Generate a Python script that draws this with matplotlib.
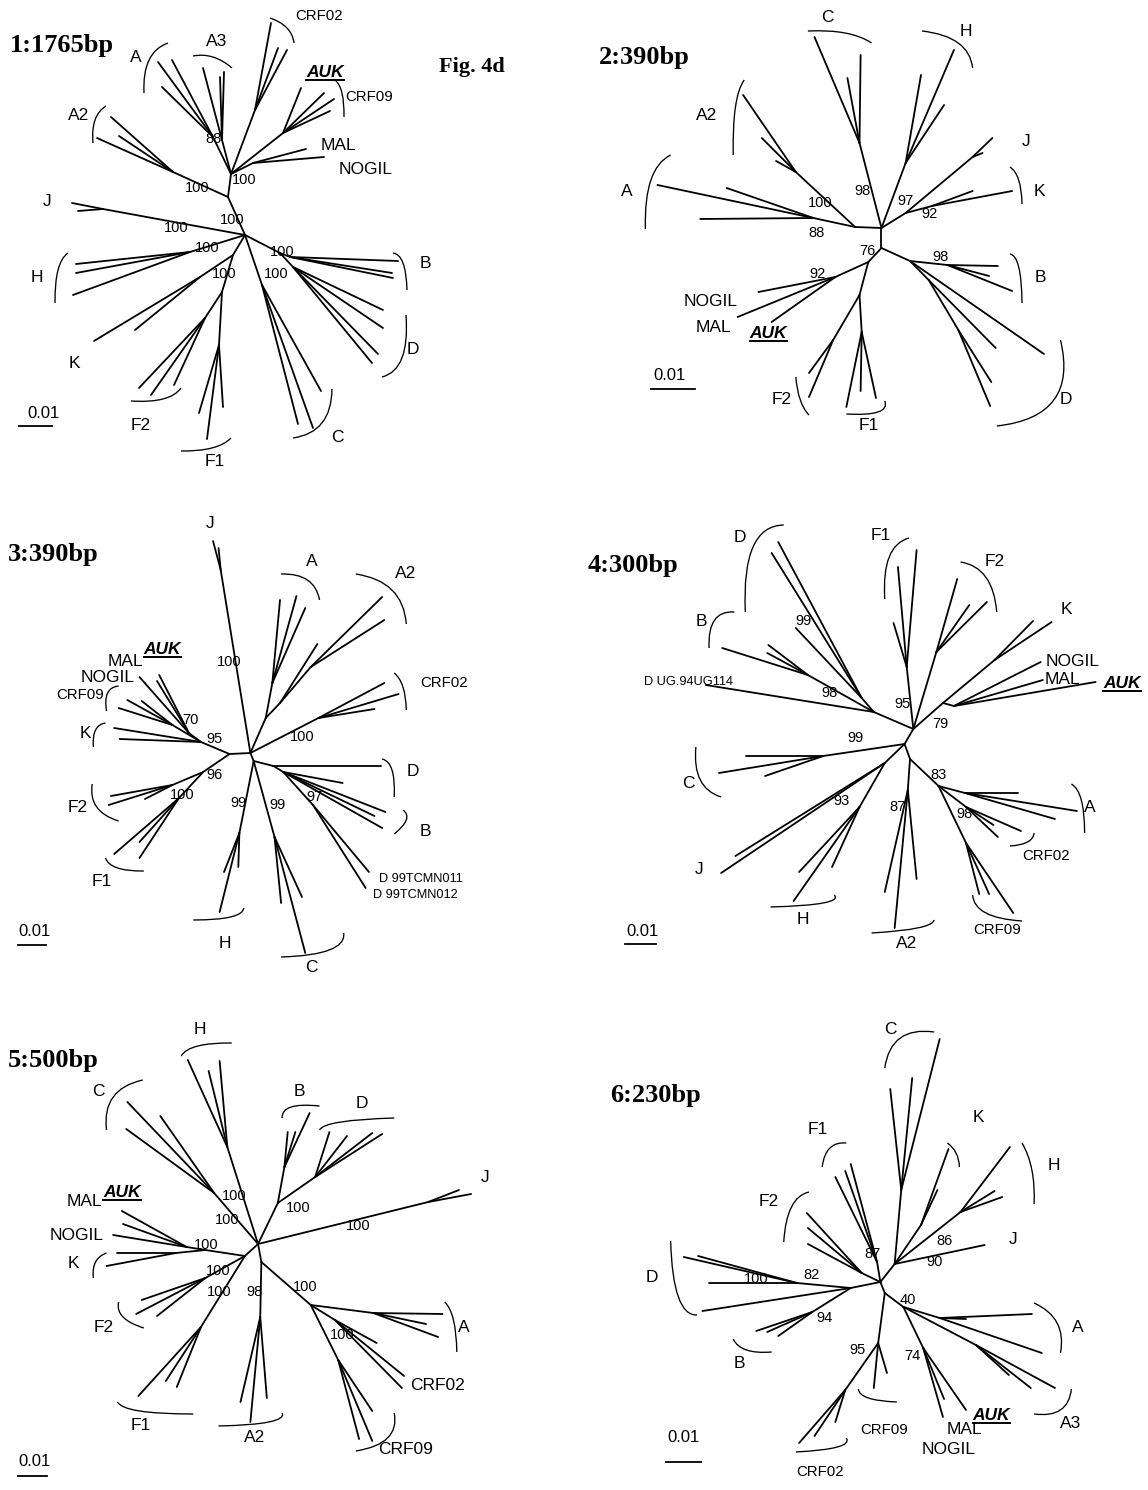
import matplotlib
matplotlib.use('Agg')
import matplotlib.pyplot as plt
from matplotlib.collections import LineCollection
from matplotlib.path import Path
from matplotlib.patches import PathPatch

# Six unrooted subtype trees (Fig. 4d). Coordinates are read off the
# reference picture (pixels, y down). Panels 2-6 were read in a frame whose
# x axis is squeezed, so each panel gets its own axes / x range (see *_frame).

# frame = (left edge of panel in px, xlim0, xlim1) for a 574 px wide panel
SQ = 574 / 1.0981

# ---------------- panel 1 : 1765bp ----------------
p1_frame = (0, 0, 574)
p1_title = ('1:1765bp', 10, 52)
p1_nodes = {
    'r': (None, 245, 235), 'u': ('r', 228, 197), 't': ('u', 231, 174),
    'a2': ('u', 173, 172), 'a': ('t', 213, 137), 'a3': ('t', 222, 140),
    'c02': ('t', 255, 110), 'c09': ('t', 283, 133), 'm': ('t', 253, 163),
    'j': ('r', 103, 209), 'h': ('r', 190, 252), 'kf': ('r', 233, 255),
    'k': ('kf', 200, 277), 'f': ('kf', 222, 292), 'f2': ('f', 205, 318),
    'f1': ('f', 219, 345), 'c': ('r', 262, 285), 'bd': ('r', 280, 253),
    'b': ('bd', 290, 257), 'd': ('bd', 293, 267),
}
p1_tips = [('a2', 111, 117), ('a2', 119, 136), ('a2', 97, 138),
           ('a', 158, 62), ('a', 172, 60), ('a', 162, 87),
           ('a3', 203, 68), ('a3', 220, 77), ('a3', 224, 72),
           ('c02', 271, 23), ('c02', 287, 50), ('c02', 278, 48),
           ('c09', 301, 88), ('c09', 324, 93), ('c09', 334, 99), ('c09', 330, 111),
           ('m', 306, 149), ('m', 324, 157),
           ('j', 72, 203), ('j', 78, 211),
           ('h', 76, 264), ('h', 76, 273), ('h', 73, 295),
           ('k', 94, 341), ('k', 135, 330),
           ('f2', 139, 388), ('f2', 151, 395), ('f2', 174, 385),
           ('f1', 199, 413), ('f1', 207, 439), ('f1', 223, 407),
           ('c', 298, 424), ('c', 313, 428), ('c', 321, 391),
           ('b', 398, 261), ('b', 392, 273), ('b', 393, 278),
           ('d', 383, 310), ('d', 383, 328), ('d', 378, 354), ('d', 372, 363)]
p1_brackets = [(168, 43, 149, 60, 144, 93), (193, 56, 213, 57, 232, 68),
               (270, 18, 287, 28, 294, 43), (335, 80, 342, 93, 344, 117),
               (106, 106, 95, 120, 93, 143), (68, 253, 58, 270, 55, 303),
               (393, 253, 403, 263, 407, 290), (406, 315, 402, 358, 382, 377),
               (332, 389, 322, 423, 293, 438), (231, 438, 212, 448, 181, 451),
               (181, 388, 163, 399, 131, 401)]
p1_labels = [('A', 136, 58, 'clade'), ('A3', 217, 42, 'clade'), ('CRF02', 319, 16, 'crf'),
             ('CRF09', 369, 97, 'crf'), ('MAL', 338, 145, 'clade'), ('NOGIL', 366, 169, 'clade'),
             ('A2', 79, 116, 'clade'), ('J', 47, 202, 'clade'), ('H', 37, 277, 'clade'),
             ('K', 74, 363, 'clade'), ('F2', 141, 425, 'clade'), ('F1', 215, 462, 'clade'),
             ('C', 337, 437, 'clade'), ('D', 413, 350, 'clade'), ('B', 425, 264, 'clade'),
             ('AUK', 325, 71, 'auk')]
p1_boot = [('88', 214, 139), ('100', 244, 180), ('100', 197, 188), ('100', 232, 220),
           ('100', 176, 228), ('100', 207, 248), ('100', 224, 274), ('100', 282, 252),
           ('100', 276, 274)]
p1_scale = (19, 52, 426, 43, 413)

# ---------------- panel 2 : 390bp ----------------
p2_frame = (574, 574, 574 + SQ)
p2_title = ('2:390bp', 597, 64)
p2_nodes = {
    'r': (None, 854, 228), 'b': ('r', 854, 248), 'c': ('r', 834, 143),
    'h': ('r', 876, 163), 'jk': ('r', 876, 213), 'j': ('jk', 937, 157),
    'k': ('jk', 900, 206), 'aa': ('r', 830, 227), 'a2': ('aa', 776, 172),
    'a': ('aa', 792, 218), 'bd': ('b', 880, 261), 'bb': ('bd', 914, 265),
    'd': ('bd', 897, 280), 'd2': ('d', 924, 330), 'fm': ('b', 842, 262),
    'm': ('fm', 812, 277), 'f': ('fm', 834, 295), 'f1': ('f', 836, 332),
    'f2': ('f', 810, 340),
}
p2_tips = [('c', 793, 37), ('c', 835, 55), ('c', 823, 78),
           ('h', 920, 50), ('h', 890, 75), ('h', 911, 105),
           ('j', 955, 138), ('j', 946, 153),
           ('k', 937, 191), ('k', 973, 191),
           ('a2', 728, 95), ('a2', 745, 138), ('a2', 758, 161),
           ('a', 650, 185), ('a', 713, 188), ('a', 689, 219),
           ('bb', 960, 266), ('bb', 952, 276), ('bb', 973, 291),
           ('bd', 1002, 354), ('d', 958, 348), ('d2', 954, 382), ('d2', 953, 406),
           ('m', 742, 292), ('m', 723, 317), ('m', 754, 322),
           ('f1', 822, 407), ('f1', 835, 391), ('f1', 849, 398),
           ('f2', 788, 397), ('f2', 788, 373)]
p2_brackets = [(787, 31, 821, 33, 845, 43), (891, 31, 924, 43, 937, 68),
               (729, 80, 721, 107, 719, 155), (662, 155, 644, 180, 639, 229),
               (971, 167, 979, 180, 982, 204), (971, 254, 979, 267, 982, 303),
               (1017, 340, 1011, 400, 959, 426), (857, 401, 851, 412, 822, 414),
               (776, 377, 780, 400, 788, 415)]
p2_labels = [('C', 805, 17, 'clade'), ('H', 931, 31, 'clade'), ('A2', 695, 116, 'clade'),
             ('A', 622, 191, 'clade'), ('J', 986, 142, 'clade'), ('K', 998, 191, 'clade'),
             ('B', 999, 277, 'clade'), ('D', 1022, 400, 'clade'), ('F1', 842, 425, 'clade'),
             ('F2', 763, 400, 'clade'), ('NOGIL', 698, 302, 'clade'), ('MAL', 701, 327, 'clade'),
             ('AUK', 751, 332, 'auk')]
p2_boot = [('98', 837, 191), ('97', 876, 201), ('92', 898, 214), ('100', 798, 203),
           ('88', 795, 233), ('98', 908, 257), ('76', 841, 251), ('92', 796, 274)]
p2_scale = (644, 684, 389, 661, 376)

# ---------------- panel 3 : 390bp ----------------
p3_frame = (0, 0, SQ)
p3_title = ('3:390bp', 7, 561)
p3_nodes = {
    'r': (None, 228, 753), 'l': ('r', 209, 754), 'b': ('r', 231, 761),
    'j': ('r', 201, 570), 'aa': ('r', 242, 718), 'a': ('aa', 248, 683),
    'a2': ('aa', 255, 703), 'a2b': ('a2', 283, 667), 'c02': ('r', 290, 718),
    'ul': ('l', 183, 742), 'm': ('ul', 172, 733), 'c09': ('ul', 157, 725),
    'll': ('l', 185, 772), 'f2': ('ll', 157, 785), 'f1': ('ll', 163, 798),
    'db': ('b', 249, 766), 'dbs': ('db', 258, 772), 'tc': ('dbs', 285, 805),
    'h': ('b', 218, 833), 'c': ('b', 250, 837),
}
p3_tips = [('j', 194, 541), ('j', 199, 548),
           ('a', 255, 600), ('a', 270, 596), ('a', 278, 608),
           ('a2', 289, 644), ('a2b', 348, 597), ('a2b', 350, 620),
           ('c02', 350, 683), ('c02', 363, 694), ('c02', 341, 709),
           ('ul', 104, 728), ('ul', 109, 739),
           ('m', 127, 677), ('m', 145, 675), ('m', 143, 681),
           ('c09', 116, 700), ('c09', 129, 701), ('c09', 108, 708),
           ('f2', 101, 796), ('f2', 99, 805), ('f2', 132, 799),
           ('f1', 104, 854), ('f1', 127, 858), ('f1', 127, 842),
           ('db', 347, 766),
           ('dbs', 312, 783), ('dbs', 351, 812), ('dbs', 348, 828), ('dbs', 341, 816),
           ('tc', 336, 872), ('tc', 333, 888),
           ('h', 200, 912), ('h', 204, 872), ('h', 217, 867),
           ('c', 278, 953), ('c', 256, 903), ('c', 275, 897)]
p3_brackets = [(256, 574, 280, 580, 291, 600), (324, 574, 357, 590, 370, 624),
               (359, 673, 367, 687, 370, 710), (348, 759, 357, 770, 359, 797),
               (367, 810, 370, 820, 359, 834), (313, 933, 300, 950, 256, 957),
               (222, 908, 210, 917, 176, 920), (96, 858, 107, 868, 131, 871),
               (84, 784, 88, 807, 108, 821), (96, 723, 87, 730, 85, 747),
               (108, 686, 98, 693, 97, 711)]
p3_labels = [('J', 191, 523, 'clade'), ('A', 284, 562, 'clade'), ('A2', 369, 573, 'clade'),
             ('CRF02', 404, 683, 'crf'), ('D', 376, 772, 'clade'), ('B', 387, 832, 'clade'),
             ('C', 284, 968, 'clade'), ('H', 205, 943, 'clade'), ('F1', 93, 882, 'clade'),
             ('F2', 71, 808, 'clade'), ('K', 78, 734, 'clade'), ('CRF09', 73, 695, 'crf'),
             ('NOGIL', 98, 677, 'clade'), ('MAL', 114, 662, 'clade'), ('AUK', 148, 648, 'auk'),
             ('D 99TCMN011', 383, 879, 'small'), ('D 99TCMN012', 378, 895, 'small')]
p3_boot = [('100', 209, 662), ('100', 275, 737), ('70', 173, 720), ('95', 195, 739),
           ('96', 195, 775), ('100', 166, 795), ('99', 217, 803), ('99', 253, 805),
           ('97', 286, 797)]
p3_scale = (16, 42, 945, 31, 932)

# ---------------- panel 4 : 300bp ----------------
p4_frame = (574, 574, 574 + SQ)
p4_title = ('4:300bp', 586, 572)
p4_nodes = {
    'r': (None, 883, 729), 'lo': ('r', 875, 744), 'db': ('r', 847, 712),
    'd': ('db', 836, 698), 'b': ('db', 787, 675), 'f1': ('r', 877, 667),
    'f2': ('r', 904, 652), 'r79': ('r', 910, 703), 'k': ('r79', 957, 660),
    'm': ('r79', 920, 706), 'c': ('lo', 801, 756), 'jh': ('lo', 857, 763),
    'h': ('jh', 834, 807), 'a2r': ('lo', 880, 759), 'a2': ('a2r', 878, 790),
    'ac': ('a2r', 906, 786), 'a': ('ac', 930, 793), 'c02': ('ac', 931, 807),
    'c09': ('ac', 931, 843),
}
p4_tips = [('d', 760, 542), ('d', 754, 553), ('d', 776, 628),
           ('b', 709, 648), ('b', 751, 645), ('b', 750, 653),
           ('db', 694, 685),
           ('f1', 886, 550), ('f1', 869, 567), ('f1', 865, 623),
           ('f2', 923, 579), ('f2', 934, 605), ('f2', 950, 602),
           ('k', 992, 621), ('k', 1009, 622),
           ('m', 999, 662), ('m', 1001, 680), ('m', 1049, 682),
           ('c', 731, 756), ('c', 706, 773), ('c', 748, 776),
           ('jh', 708, 873), ('jh', 721, 856),
           ('h', 774, 901), ('h', 779, 872), ('h', 809, 867),
           ('a2', 866, 928), ('a2', 857, 892), ('a2', 886, 879),
           ('a', 978, 793), ('a', 1032, 811), ('a', 1012, 819),
           ('c02', 981, 831), ('c02', 960, 837), ('c02', 956, 825),
           ('c09', 974, 913), ('c09', 952, 894), ('c09', 943, 894)]
p4_brackets = [(765, 525, 737, 547, 730, 612), (720, 612, 702, 620, 697, 648),
               (879, 538, 861, 557, 857, 599), (926, 562, 949, 577, 959, 612),
               (685, 747, 689, 780, 708, 797), (1027, 784, 1036, 800, 1039, 833),
               (993, 833, 987, 842, 971, 846), (937, 895, 949, 913, 982, 921),
               (902, 920, 887, 928, 845, 933), (811, 895, 801, 903, 753, 907)]
p4_labels = [('D', 725, 537, 'clade'), ('F1', 853, 536, 'clade'), ('F2', 957, 561, 'clade'),
             ('K', 1022, 610, 'clade'), ('NOGIL', 1028, 661, 'clade'), ('MAL', 1019, 679, 'clade'),
             ('AUK', 1073, 682, 'auk'), ('B', 690, 622, 'clade'), ('D UG.94UG114', 678, 682, 'small'),
             ('C', 678, 783, 'clade'), ('A', 1044, 808, 'clade'), ('CRF02', 1004, 856, 'crf'),
             ('CRF09', 959, 930, 'crf'), ('A2', 877, 943, 'clade'), ('H', 782, 920, 'clade'),
             ('J', 688, 869, 'clade')]
p4_boot = [('99', 783, 621), ('98', 807, 693), ('95', 873, 704), ('79', 908, 724),
           ('99', 830, 738), ('93', 818, 801), ('87', 869, 807), ('83', 906, 775),
           ('98', 930, 814)]
p4_scale = (620, 649, 944, 636, 932)

# ---------------- panel 5 : 500bp ----------------
p5_frame = (0, 0, SQ)
p5_title = ('5:500bp', 7, 1067)
p5_nodes = {
    'r': (None, 235, 1244), 'l': ('r', 223, 1256), 'lo': ('r', 238, 1262),
    'c': ('r', 195, 1193), 'h': ('r', 207, 1147), 'bd': ('r', 253, 1203),
    'b': ('bd', 259, 1167), 'd': ('bd', 287, 1177), 'j': ('r', 390, 1202),
    'mk': ('l', 187, 1250), 'm': ('mk', 170, 1247), 'k': ('mk', 160, 1253),
    'f2': ('l', 187, 1278), 'f1': ('l', 183, 1327), 'a2': ('lo', 237, 1317),
    'ac': ('lo', 283, 1305), 'a': ('ac', 340, 1313), 'c02': ('ac', 305, 1320),
    'c09': ('ac', 308, 1360),
}
p5_tips = [('c', 116, 1102), ('c', 115, 1129), ('c', 146, 1116),
           ('h', 171, 1060), ('h', 190, 1071), ('h', 200, 1061),
           ('b', 269, 1132), ('b', 262, 1132), ('b', 282, 1113),
           ('d', 300, 1132), ('d', 316, 1136), ('d', 339, 1133), ('d', 348, 1134),
           ('j', 429, 1194), ('j', 418, 1190),
           ('m', 111, 1211), ('m', 112, 1224), ('m', 103, 1235),
           ('k', 107, 1253), ('k', 97, 1266),
           ('f2', 129, 1300), ('f2', 124, 1314), ('f2', 143, 1316),
           ('f1', 126, 1396), ('f1', 151, 1381), ('f1', 161, 1387),
           ('a2', 228, 1422), ('a2', 219, 1402), ('a2', 243, 1398),
           ('a', 403, 1314), ('a', 388, 1324), ('a', 399, 1337),
           ('c02', 343, 1343), ('c02', 368, 1376), ('c02', 366, 1388),
           ('c09', 327, 1439), ('c09', 339, 1441), ('c09', 339, 1411)]
p5_brackets = [(165, 1056, 180, 1046, 211, 1043), (130, 1080, 103, 1097, 97, 1130),
               (257, 1118, 265, 1107, 291, 1106), (291, 1130, 310, 1122, 359, 1118),
               (97, 1253, 87, 1262, 85, 1278), (108, 1302, 112, 1317, 131, 1328),
               (107, 1402, 127, 1411, 176, 1414), (257, 1413, 245, 1422, 199, 1426),
               (405, 1302, 413, 1320, 416, 1352), (359, 1413, 353, 1438, 324, 1451)]
p5_labels = [('H', 182, 1030, 'clade'), ('C', 90, 1091, 'clade'), ('B', 273, 1091, 'clade'),
             ('D', 330, 1104, 'clade'), ('J', 442, 1178, 'clade'), ('AUK', 111, 1191, 'auk'),
             ('MAL', 77, 1202, 'clade'), ('NOGIL', 70, 1236, 'clade'), ('K', 67, 1264, 'clade'),
             ('F2', 94, 1327, 'clade'), ('F1', 128, 1425, 'clade'), ('A2', 232, 1437, 'clade'),
             ('CRF09', 369, 1450, 'clade'), ('A', 422, 1327, 'clade'), ('CRF02', 398, 1385, 'clade')]
p5_boot = [('100', 213, 1196), ('100', 207, 1220), ('100', 272, 1208), ('100', 326, 1226),
           ('100', 188, 1245), ('100', 199, 1271), ('100', 200, 1292), ('98', 232, 1292),
           ('100', 278, 1287), ('100', 312, 1335)]
p5_scale = (16, 43, 1476, 31, 1462)

# ---------------- panel 6 : 230bp ----------------
p6_frame = (574, 574, 574 + SQ)
p6_title = ('6:230bp', 607, 1102)
p6_nodes = {
    'r': (None, 853, 1282), 'up': ('r', 866, 1264), 'lo': ('r', 857, 1293),
    'lf': ('r', 826, 1288), 'c': ('up', 872, 1190), 'k': ('up', 890, 1225),
    'h': ('up', 926, 1212), 'f1': ('r', 850, 1262), 'f2': ('r', 836, 1273),
    'd': ('lf', 777, 1283), 'b': ('lf', 791, 1312), 'crf': ('lo', 851, 1343),
    'c02': ('crf', 821, 1390), 'am': ('lo', 874, 1307), 'a': ('am', 907, 1318),
    'a3': ('am', 940, 1345), 'm': ('am', 892, 1348),
}
p6_tips = [('c', 907, 1039), ('c', 882, 1078), ('c', 862, 1089),
           ('k', 915, 1149), ('k', 905, 1190),
           ('h', 971, 1147), ('h', 957, 1191), ('h', 964, 1197),
           ('up', 948, 1245),
           ('f1', 812, 1177), ('f1', 821, 1171), ('f1', 826, 1164),
           ('f2', 786, 1213), ('f2', 787, 1228), ('f2', 787, 1244),
           ('d', 674, 1257), ('d', 687, 1256), ('d', 697, 1283), ('lf', 691, 1311),
           ('b', 740, 1331), ('b', 750, 1332), ('b', 760, 1336),
           ('crf', 859, 1373), ('crf', 847, 1388),
           ('c02', 779, 1443), ('c02', 793, 1436), ('c02', 812, 1422),
           ('a', 991, 1314), ('a', 931, 1319), ('a', 1000, 1353),
           ('a3', 1012, 1388), ('a3', 990, 1388), ('a3', 970, 1375),
           ('m', 931, 1410), ('m', 911, 1399), ('m', 910, 1417)]
p6_brackets = [(857, 1068, 871, 1038, 902, 1032), (800, 1167, 807, 1148, 822, 1143),
               (765, 1242, 772, 1207, 788, 1192), (914, 1143, 922, 1153, 925, 1167),
               (982, 1143, 991, 1170, 993, 1204), (662, 1241, 669, 1297, 686, 1315),
               (719, 1339, 731, 1350, 754, 1352), (993, 1303, 1014, 1323, 1017, 1353),
               (1027, 1389, 1017, 1410, 993, 1414), (833, 1389, 842, 1398, 868, 1402),
               (822, 1438, 814, 1447, 776, 1452)]
p6_labels = [('C', 862, 1030, 'clade'), ('K', 942, 1117, 'clade'), ('H', 1011, 1166, 'clade'),
             ('F1', 796, 1129, 'clade'), ('F2', 751, 1202, 'clade'), ('J', 974, 1240, 'clade'),
             ('D', 645, 1277, 'clade'), ('A', 1033, 1327, 'clade'), ('B', 725, 1363, 'clade'),
             ('A3', 1026, 1424, 'clade'), ('AUK', 954, 1414, 'auk'), ('MAL', 930, 1429, 'clade'),
             ('NOGIL', 915, 1449, 'clade'), ('CRF09', 856, 1430, 'crf'), ('CRF02', 798, 1472, 'crf')]
p6_boot = [('87', 846, 1254), ('86', 911, 1241), ('90', 902, 1262), ('82', 790, 1275),
           ('100', 740, 1279), ('94', 802, 1318), ('40', 878, 1300), ('95', 832, 1350),
           ('74', 882, 1356)]
p6_scale = (658, 690, 1462, 674, 1438)

fig_label = ('Fig. 4d', 472, 67)

panels = [
    (p1_frame, p1_title, p1_nodes, p1_tips, p1_brackets, p1_labels, p1_boot, p1_scale),
    (p2_frame, p2_title, p2_nodes, p2_tips, p2_brackets, p2_labels, p2_boot, p2_scale),
    (p3_frame, p3_title, p3_nodes, p3_tips, p3_brackets, p3_labels, p3_boot, p3_scale),
    (p4_frame, p4_title, p4_nodes, p4_tips, p4_brackets, p4_labels, p4_boot, p4_scale),
    (p5_frame, p5_title, p5_nodes, p5_tips, p5_brackets, p5_labels, p5_boot, p5_scale),
    (p6_frame, p6_title, p6_nodes, p6_tips, p6_brackets, p6_labels, p6_boot, p6_scale),
]

SANS = 'Liberation Sans'
SERIF = 'Liberation Serif'
text_size = {'clade': 12.5, 'crf': 10.8, 'small': 9.2, 'auk': 12.5}
W, H = 1148, 1490

fig = plt.figure(figsize=(W / 100, H / 100), dpi=100)

auk_texts = []
first_ax = None
for frame, title, nodes, tips, brackets, labels, boot, scale in panels:
    left, x0, x1 = frame
    ax = fig.add_axes([left / W, 0, 574 / W, 1])
    ax.set_xlim(x0, x1)
    ax.set_ylim(H, 0)
    ax.axis('off')
    if first_ax is None:
        first_ax = ax

    segs = []
    for name, (par, x, y) in nodes.items():
        if par is not None:
            segs.append([nodes[par][1:], (x, y)])
    for par, x, y in tips:
        segs.append([nodes[par][1:], (x, y)])
    ax.add_collection(LineCollection(segs, colors='black', linewidths=1.3,
                                     capstyle='round', clip_on=False))

    for bx0, by0, bxm, bym, bx1, by1 in brackets:
        cx = 2 * bxm - (bx0 + bx1) / 2
        cy = 2 * bym - (by0 + by1) / 2
        path = Path([(bx0, by0), (cx, cy), (bx1, by1)],
                    [Path.MOVETO, Path.CURVE3, Path.CURVE3])
        ax.add_patch(PathPatch(path, fill=False, lw=0.95, ec='black', clip_on=False))

    for txt, x, y, kind in labels:
        if kind == 'auk':
            t = ax.text(x, y + 6, txt, fontsize=text_size[kind], family=SANS,
                        weight='bold', style='italic', ha='center', va='baseline')
            auk_texts.append((ax, t, y + 8.5))
        else:
            ax.text(x, y, txt, fontsize=text_size[kind], family=SANS,
                    ha='center', va='center')

    for txt, x, y in boot:
        ax.text(x, y, txt, fontsize=10.5, family=SANS, ha='center', va='center')

    sx0, sx1, sy, lx, ly = scale
    ax.plot([sx0, sx1], [sy, sy], color='black', lw=1.3, clip_on=False)
    ax.text(lx, ly, '0.01', fontsize=12, family=SANS, ha='center', va='center')

    ttxt, tx, ty = title
    ax.text(tx, ty, ttxt, fontsize=19, family=SERIF, weight='bold',
            ha='left', va='baseline')

first_ax.text(fig_label[1], fig_label[2], fig_label[0], fontsize=16, family=SERIF,
              weight='bold', ha='center', va='center')

# underline the AUK labels
fig.canvas.draw()
for ax, t, uy in auk_texts:
    inv = ax.transData.inverted()
    bb = t.get_window_extent()
    xa = inv.transform((bb.x0, bb.y0))[0]
    xb = inv.transform((bb.x1, bb.y0))[0]
    ax.plot([xa, xb], [uy, uy], color='black', lw=1.4, clip_on=False)

fig.savefig('out.png', dpi=100)
